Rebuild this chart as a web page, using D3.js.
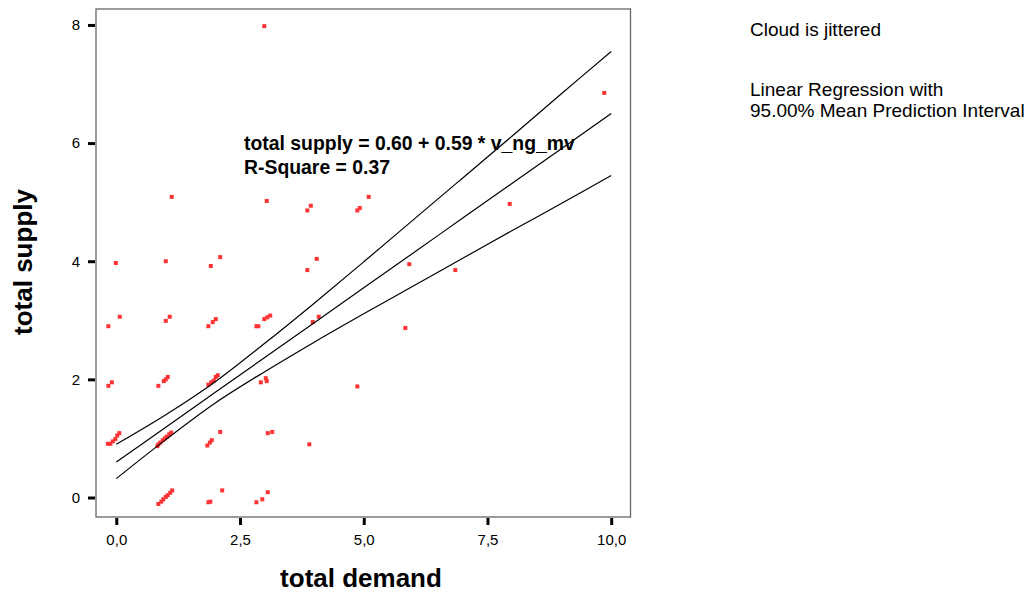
<!DOCTYPE html>
<html>
<head>
<meta charset="utf-8">
<script src="https://cdn.jsdelivr.net/npm/d3@7"></script>
<style>
  html, body { margin: 0; padding: 0; background: #fff; }
  svg text { font-family: "Liberation Sans", Arial, sans-serif; fill: #000; }
  .axis .domain { display: none; }
  .axis line { stroke: #000; stroke-width: 3; }
  .axis text { font-size: 15px; }
</style>
</head>
<body>
<div id="chart"></div>
<script>
// total demand (x) / total supply (y), jittered cloud
var demand = [2.99, 9.86, 7.95, 5.10, 4.92, 4.87, 3.93, 3.86, 3.04, 1.12,
  4.05, 3.86, 5.92, 6.85, 5.84, 4.09, 3.97, 3.11, 3.05, 2.99,
  2.87, 2.83, 4.87, 3.90, -0.01, 1.00, 2.10, 1.91, 0.07, -0.16,
  1.08, 1.00, 2.01, 1.95, 1.86, -0.09, -0.16, 1.04, 1.00, 0.96,
  0.85, 2.05, 2.01, 1.97, 1.92, 1.86, 2.92, 3.02, 3.04, 0.06,
  0.02, -0.02, -0.07, -0.12, -0.17, 1.11, 1.07, 1.02, 0.98, 0.94,
  0.89, 0.85, 0.83, 2.10, 1.93, 1.89, 1.84, 3.06, 3.15, 3.06,
  2.95, 2.83, 1.13, 1.09, 1.04, 1.00, 0.95, 0.91, 0.85, 2.14,
  1.90, 1.86];
var supply = [7.98, 6.85, 4.97, 5.09, 4.90, 4.86, 4.94, 4.86, 5.02, 5.09,
  4.04, 3.85, 3.95, 3.85, 2.87, 3.06, 2.97, 3.08, 3.05, 3.02,
  2.90, 2.90, 1.88, 0.90, 3.97, 4.00, 4.07, 3.92, 3.06, 2.90,
  3.06, 2.99, 3.02, 2.97, 2.90, 1.95, 1.89, 2.04, 2.00, 1.97,
  1.89, 2.07, 2.04, 1.98, 1.95, 1.91, 1.95, 2.02, 1.97, 1.09,
  1.05, 0.99, 0.95, 0.91, 0.91, 1.10, 1.07, 1.03, 1.00, 0.97,
  0.93, 0.90, 0.87, 1.11, 0.97, 0.93, 0.88, 1.09, 1.11, 0.09,
  -0.03, -0.08, 0.12, 0.08, 0.04, 0.01, -0.03, -0.07, -0.11, 0.12,
  -0.07, -0.08];

// fit line and 95% mean prediction interval
var fitX = [0, 1, 2, 3, 4, 5, 6, 7, 8, 9, 10];
var fitMid = [0.60, 1.19, 1.78, 2.37, 2.96, 3.55, 4.14, 4.73, 5.32, 5.91, 6.50];
var fitUpper = [0.90, 1.40, 1.96, 2.61, 3.29, 3.99, 4.70, 5.41, 6.12, 6.84, 7.55];
var fitLower = [0.32, 0.98, 1.60, 2.13, 2.63, 3.11, 3.58, 4.05, 4.52, 4.98, 5.45];

var xTicks = [0, 2.5, 5, 7.5, 10];
var xTickLabels = ["0,0", "2,5", "5,0", "7,5", "10,0"];
var yTicks = [0, 2, 4, 6, 8];

var legendLines = ["Cloud is jittered", "Linear Regression with", "95.00% Mean Prediction Interval"];
var equationLines = ["total supply = 0.60 + 0.59 * v_ng_mv", "R-Square = 0.37"];

var W = 1032, H = 592;
var frame = { left: 96, right: 630.5, top: 9, bottom: 517 };

var svg = d3.select("#chart").append("svg")
  .attr("width", W).attr("height", H);

var x = d3.scaleLinear().domain([-0.41, 10.39]).range([frame.left, frame.right]);
var y = d3.scaleLinear().domain([-0.33, 8.27]).range([frame.bottom, frame.top]);

// frame
svg.append("rect")
  .attr("x", frame.left).attr("y", frame.top)
  .attr("width", frame.right - frame.left)
  .attr("height", frame.bottom - frame.top)
  .attr("fill", "#fff")
  .attr("stroke", "#666")
  .attr("stroke-width", 1.3);

// axes
svg.append("g").attr("class", "axis")
  .attr("transform", "translate(" + (frame.left - 1) + ",0)")
  .call(d3.axisLeft(y).tickValues(yTicks).tickSize(7).tickPadding(8)
    .tickFormat(d3.format("d")));

svg.append("g").attr("class", "axis")
  .attr("transform", "translate(0," + (frame.bottom + 1) + ")")
  .call(d3.axisBottom(x).tickValues(xTicks).tickSize(7).tickPadding(9)
    .tickFormat(function (d, i) { return xTickLabels[i]; }));

// points
var pts = demand.map(function (d, i) { return { x: d, y: supply[i] }; });
svg.append("g").selectAll("rect").data(pts).enter().append("rect")
  .attr("x", function (d) { return x(d.x) - 2; })
  .attr("y", function (d) { return y(d.y) - 2; })
  .attr("width", 4).attr("height", 4)
  .attr("fill", "#ff3333");

// fit lines
var line = d3.line()
  .x(function (d) { return x(d[0]); })
  .y(function (d) { return y(d[1]); })
  .curve(d3.curveCatmullRom.alpha(0.5));

[fitUpper, fitMid, fitLower].forEach(function (s) {
  svg.append("path")
    .datum(fitX.map(function (v, i) { return [v, s[i]]; }))
    .attr("d", line)
    .attr("fill", "none")
    .attr("stroke", "#000")
    .attr("stroke-width", 1.2);
});

// equation
svg.append("g").selectAll("text").data(equationLines).enter().append("text")
  .attr("x", 244)
  .attr("y", function (d, i) { return 150 + i * 24; })
  .attr("font-size", "19.4px")
  .attr("font-weight", "bold")
  .text(function (d) { return d; });

// legend text
svg.append("g").selectAll("text").data(legendLines).enter().append("text")
  .attr("x", 750)
  .attr("y", function (d, i) { return i === 0 ? 36 : 75 + i * 21; })
  .attr("font-size", "19px")
  .text(function (d) { return d; });

// axis titles
svg.append("text")
  .attr("x", 361).attr("y", 587)
  .attr("text-anchor", "middle")
  .attr("font-size", "26px").attr("font-weight", "bold")
  .text("total demand");

svg.append("text")
  .attr("transform", "translate(32,262) rotate(-90)")
  .attr("text-anchor", "middle")
  .attr("font-size", "26px").attr("font-weight", "bold")
  .text("total supply");
</script>
</body>
</html>
